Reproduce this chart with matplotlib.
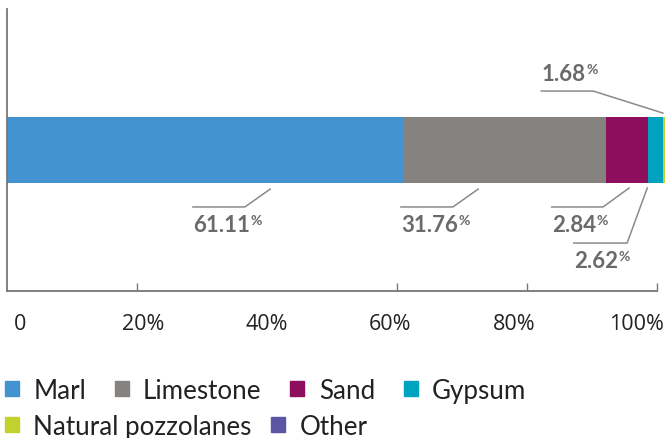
import matplotlib
matplotlib.use("Agg")
import matplotlib.pyplot as plt
from matplotlib.patches import Patch

# Data
materials = ["Marl", "Limestone", "Sand", "Gypsum", "Natural pozzolanes", "Other"]
shares = [61.11, 31.1, 6.45, 2.3, 0.3, 0.0]   # bar lengths as drawn
colours = ["#4393d0", "#858280", "#8e0e5e", "#00a3bf", "#c2d12e", "#5b55a3"]
value_labels = ["61.11", "31.76", "2.84", "2.62", "1.68"]
tick_texts = ["0", "20%", "40%", "60%", "80%", "100%"]

# leader lines for the value labels: (start x, elbow x, bar x, line y, bar y)
leaders = [
    (28.6, 36.6, 40.5, -0.404, -0.277),
    (60.6, 68.6, 72.5, -0.404, -0.277),
    (83.8, 91.7, 95.7, -0.404, -0.270),
    (87.2, 95.4, 98.5, -0.660, -0.270),
    (82.2, 90.2, 100.9, 0.418, 0.262),
]

fig = plt.figure(figsize=(6.66, 4.39), dpi=100)
ax = fig.add_axes([7 / 666, 1 - 292 / 439, 650 / 666, 282 / 439])

# stacked horizontal bar
left = 0
for share, colour in zip(shares, colours):
    ax.barh(0, share, left=left, height=0.475, color=colour, clip_on=False)
    left += share

ax.set_xlim(0, 100)
ax.set_ylim(-1, 1)

# value labels with leader lines
grey = "#8a8a8a"
for text, (x0, x1, x2, ly, by) in zip(value_labels, leaders):
    ax.plot([x0, x1, x2], [ly, ly, by], color=grey, lw=1.1, clip_on=False)
    off = 8 if ly > 0 else -17
    t = ax.annotate(text, xy=(x0, ly), xytext=(0, off), textcoords="offset points",
                    ha="left", va="baseline", fontsize=16, fontweight="bold",
                    color="#6a6a6a", family="Lato")
    ax.annotate("%", xy=(1, 1), xycoords=t, xytext=(0.5, 0), textcoords="offset points",
                ha="left", va="top", fontsize=10, fontweight="bold",
                color="#6a6a6a", family="Lato")

# axes styling
for side in ["top", "right"]:
    ax.spines[side].set_visible(False)
for side in ["left", "bottom"]:
    ax.spines[side].set_color("#777777")
    ax.spines[side].set_linewidth(1.3)
ax.set_yticks([])

# tick marks inside, labels sit a bit off the marks like in the original
ax.set_xticks([20, 40, 60, 80, 100], minor=True)
ax.tick_params(axis="x", which="minor", direction="in", length=5.8, width=1, color="#777777")
ax.set_xticks([2, 21, 40, 59, 78, 96.8])
ax.set_xticklabels(tick_texts, family="Open Sans", fontsize=15.5, color="#222222")
ax.tick_params(axis="x", which="major", length=0, pad=16)

# legend in two rows
handles = [Patch(color=c, label=m) for m, c in zip(materials, colours)]
leg_kw = dict(frameon=False, loc="upper left", borderaxespad=0, borderpad=0,
              handlelength=0.55, handleheight=0.55, handletextpad=0.55,
              prop={"family": "Lato", "size": 18.7})
leg1 = fig.legend(handles=handles[:4], ncol=4, bbox_to_anchor=(0.007, 0.137),
                  columnspacing=1.1, **leg_kw)
for txt in leg1.get_texts():
    txt.set_color("#222222")
leg2 = fig.legend(handles=handles[4:], ncol=2, bbox_to_anchor=(0.007, 0.055),
                  columnspacing=0.75, **leg_kw)
for txt in leg2.get_texts():
    txt.set_color("#222222")

fig.savefig("out.png", dpi=100)
